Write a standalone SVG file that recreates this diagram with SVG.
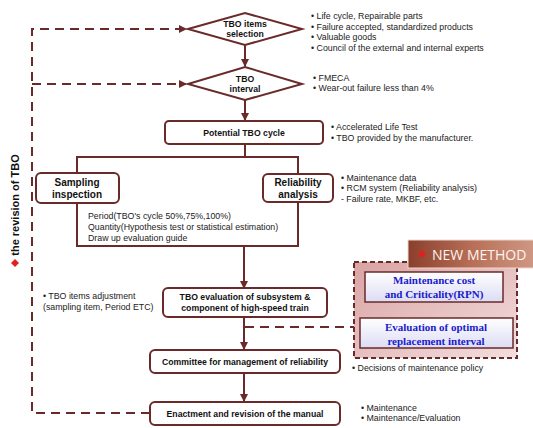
<svg xmlns="http://www.w3.org/2000/svg" width="533" height="428" viewBox="0 0 533 428">
<defs>
<style>
.box{fill:#fff;stroke:#6b2a2a;stroke-width:2}
.ln{fill:none;stroke:#6b2a2a;stroke-width:2}
.dash{fill:none;stroke:#6b2a2a;stroke-width:2;stroke-dasharray:9,6}
.bt{font-family:"Liberation Sans",Arial,sans-serif;font-weight:bold;font-size:8.7px;fill:#111;text-anchor:middle}
.bt2{font-family:"Liberation Sans",Arial,sans-serif;font-weight:bold;font-size:10px;fill:#111;text-anchor:middle}
.nt{font-family:"Liberation Sans",Arial,sans-serif;font-size:8.8px;fill:#222}
.st{font-family:"Liberation Serif","Times New Roman",serif;font-weight:bold;font-size:11px;fill:#1a1acc;text-anchor:middle}
</style>
<marker id="ah" markerWidth="8" markerHeight="8" refX="7" refY="4" orient="auto" markerUnits="userSpaceOnUse">
<path d="M0,0 L8,4 L0,8 Z" fill="#6b2a2a"/>
</marker>
<linearGradient id="nm" x1="0" y1="0" x2="1" y2="0">
<stop offset="0" stop-color="#8a3f2c"/>
<stop offset="0.5" stop-color="#b87058"/>
<stop offset="1" stop-color="#d09a86"/>
</linearGradient>
<linearGradient id="pk" x1="0" y1="0" x2="1" y2="1">
<stop offset="0" stop-color="#d9a3a3"/>
<stop offset="1" stop-color="#f3dede"/>
</linearGradient>
<linearGradient id="ib" x1="0" y1="0" x2="0" y2="1">
<stop offset="0" stop-color="#ffffff"/>
<stop offset="1" stop-color="#dcdcf4"/>
</linearGradient>
</defs>

<g id="connectors">
<line class="ln" x1="245" y1="45" x2="245" y2="66" marker-end="url(#ah)"/>
<line class="ln" x1="245" y1="100" x2="245" y2="120" marker-end="url(#ah)"/>
<polyline class="ln" points="245,144 245,157"/>
<polyline class="ln" points="77,173 77,157 298,157 298,174"/>
<polyline class="ln" points="77,203 77,246 298,246 298,202"/>
<line class="ln" x1="244" y1="246" x2="244" y2="288" marker-end="url(#ah)"/>
<line class="ln" x1="244" y1="317" x2="244" y2="349" marker-end="url(#ah)"/>
<line class="ln" x1="244" y1="373" x2="244" y2="401" marker-end="url(#ah)"/>
<polyline class="dash" points="150,413 32,413 32,29 186,29" marker-end="url(#ah)"/>
<line class="dash" x1="32" y1="84" x2="186" y2="84" marker-end="url(#ah)"/>
<line class="dash" x1="245" y1="327" x2="354" y2="327"/>
<line x1="436" y1="302" x2="436" y2="317" stroke="#6b2a2a" stroke-width="1.5" marker-end="url(#ah)"/>
</g>

<g id="tbo-items-selection">
<polygon class="box" points="188,29 245,13 302,29 245,45"/>
<text class="bt" x="245" y="27">TBO items</text>
<text class="bt" x="245" y="37">selection</text>
</g>
<g id="tbo-interval">
<polygon class="box" points="188,84 245,67 302,84 245,100"/>
<text class="bt" x="245" y="82">TBO</text>
<text class="bt" x="245" y="92">interval</text>
</g>
<g id="potential-tbo-cycle">
<rect class="box" x="165" y="121" width="158" height="23" rx="4"/>
<text class="bt" x="244" y="136">Potential TBO cycle</text>
</g>
<g id="sampling-inspection">
<rect class="box" x="36" y="173" width="83" height="30" rx="5"/>
<text class="bt2" x="77" y="186">Sampling</text>
<text class="bt2" x="77" y="198">inspection</text>
</g>
<g id="reliability-analysis">
<rect class="box" x="263" y="174" width="70" height="28" rx="5"/>
<text class="bt2" x="298" y="186">Reliability</text>
<text class="bt2" x="298" y="198">analysis</text>
</g>
<g id="sampling-notes">
<text class="nt" x="88" y="219">Period(TBO's cycle 50%,75%,100%)</text>
<text class="nt" x="88" y="230">Quantity(Hypothesis test or statistical estimation)</text>
<text class="nt" x="88" y="241">Draw up evaluation guide</text>
</g>
<g id="tbo-evaluation">
<rect class="box" x="163" y="288" width="164" height="29" rx="5"/>
<text class="bt" x="245" y="300">TBO evaluation of subsystem &amp;</text>
<text class="bt" x="245" y="311">component of high-speed train</text>
</g>
<g id="committee">
<rect class="box" x="150" y="350" width="190" height="23" rx="5"/>
<text class="bt" x="245" y="365">Committee for management of reliability</text>
</g>
<g id="enactment">
<rect class="box" x="150" y="402" width="190" height="23" rx="5"/>
<text class="bt" x="245" y="417">Enactment and revision  of  the manual</text>
</g>

<g id="new-method">
<rect x="354" y="262" width="163" height="96" fill="url(#pk)" stroke="#6b2a2a" stroke-width="2" stroke-dasharray="5,3"/>
<rect x="408" y="240" width="130" height="28" fill="url(#nm)" stroke="#f0d8d0" stroke-width="1"/>
<path d="M422,250 L426,254 L422,258 L418,254 Z" fill="#e02020"/>
<text x="432" y="260" font-family="'Open Sans','DejaVu Sans',sans-serif" font-size="14" fill="#fff4ee">NEW METHOD</text>
</g>
<g id="maintenance-cost">
<rect x="365" y="272" width="138" height="30" fill="url(#ib)" stroke="#6b2a2a" stroke-width="1.5"/>
<text class="st" x="434" y="284">Maintenance cost</text>
<text class="st" x="434" y="298">and Criticality(RPN)</text>
</g>
<g id="evaluation-optimal">
<rect x="360" y="318" width="153" height="30" fill="url(#ib)" stroke="#6b2a2a" stroke-width="1.5"/>
<text class="st" x="436" y="331">Evaluation  of optimal</text>
<text class="st" x="436" y="345">replacement interval</text>
</g>

<g id="notes">
<text class="nt" x="311" y="19">• Life cycle, Repairable parts</text>
<text class="nt" x="311" y="30">• Failure accepted, standardized products</text>
<text class="nt" x="311" y="40">• Valuable goods</text>
<text class="nt" x="311" y="51">• Council of the external and internal experts</text>
<text class="nt" x="313" y="81">• FMECA</text>
<text class="nt" x="313" y="91">• Wear-out failure less than 4%</text>
<text class="nt" x="331" y="130">•  Accelerated Life Test</text>
<text class="nt" x="331" y="141">• TBO provided by the manufacturer.</text>
<text class="nt" x="341" y="181">• Maintenance data</text>
<text class="nt" x="341" y="191">• RCM system (Reliability analysis)</text>
<text class="nt" x="341" y="202">-  Failure rate, MKBF,  etc.</text>
<text class="nt" x="43" y="299">• TBO items adjustment</text>
<text class="nt" x="43" y="310">(sampling item, Period ETC)</text>
<text class="nt" x="352" y="371">• Decisions of maintenance policy</text>
<text class="nt" x="361" y="411">• Maintenance</text>
<text class="nt" x="361" y="421">• Maintenance/Evaluation</text>
</g>

<g id="revision-label">
<text transform="translate(19,205) rotate(-90)" font-family="'Liberation Sans',Arial,sans-serif" font-weight="bold" font-size="11" fill="#111" text-anchor="middle">the revision of TBO</text>
<path d="M15,259 L19,263 L15,267 L11,263 Z" fill="#e02020"/>
</g>
</svg>
